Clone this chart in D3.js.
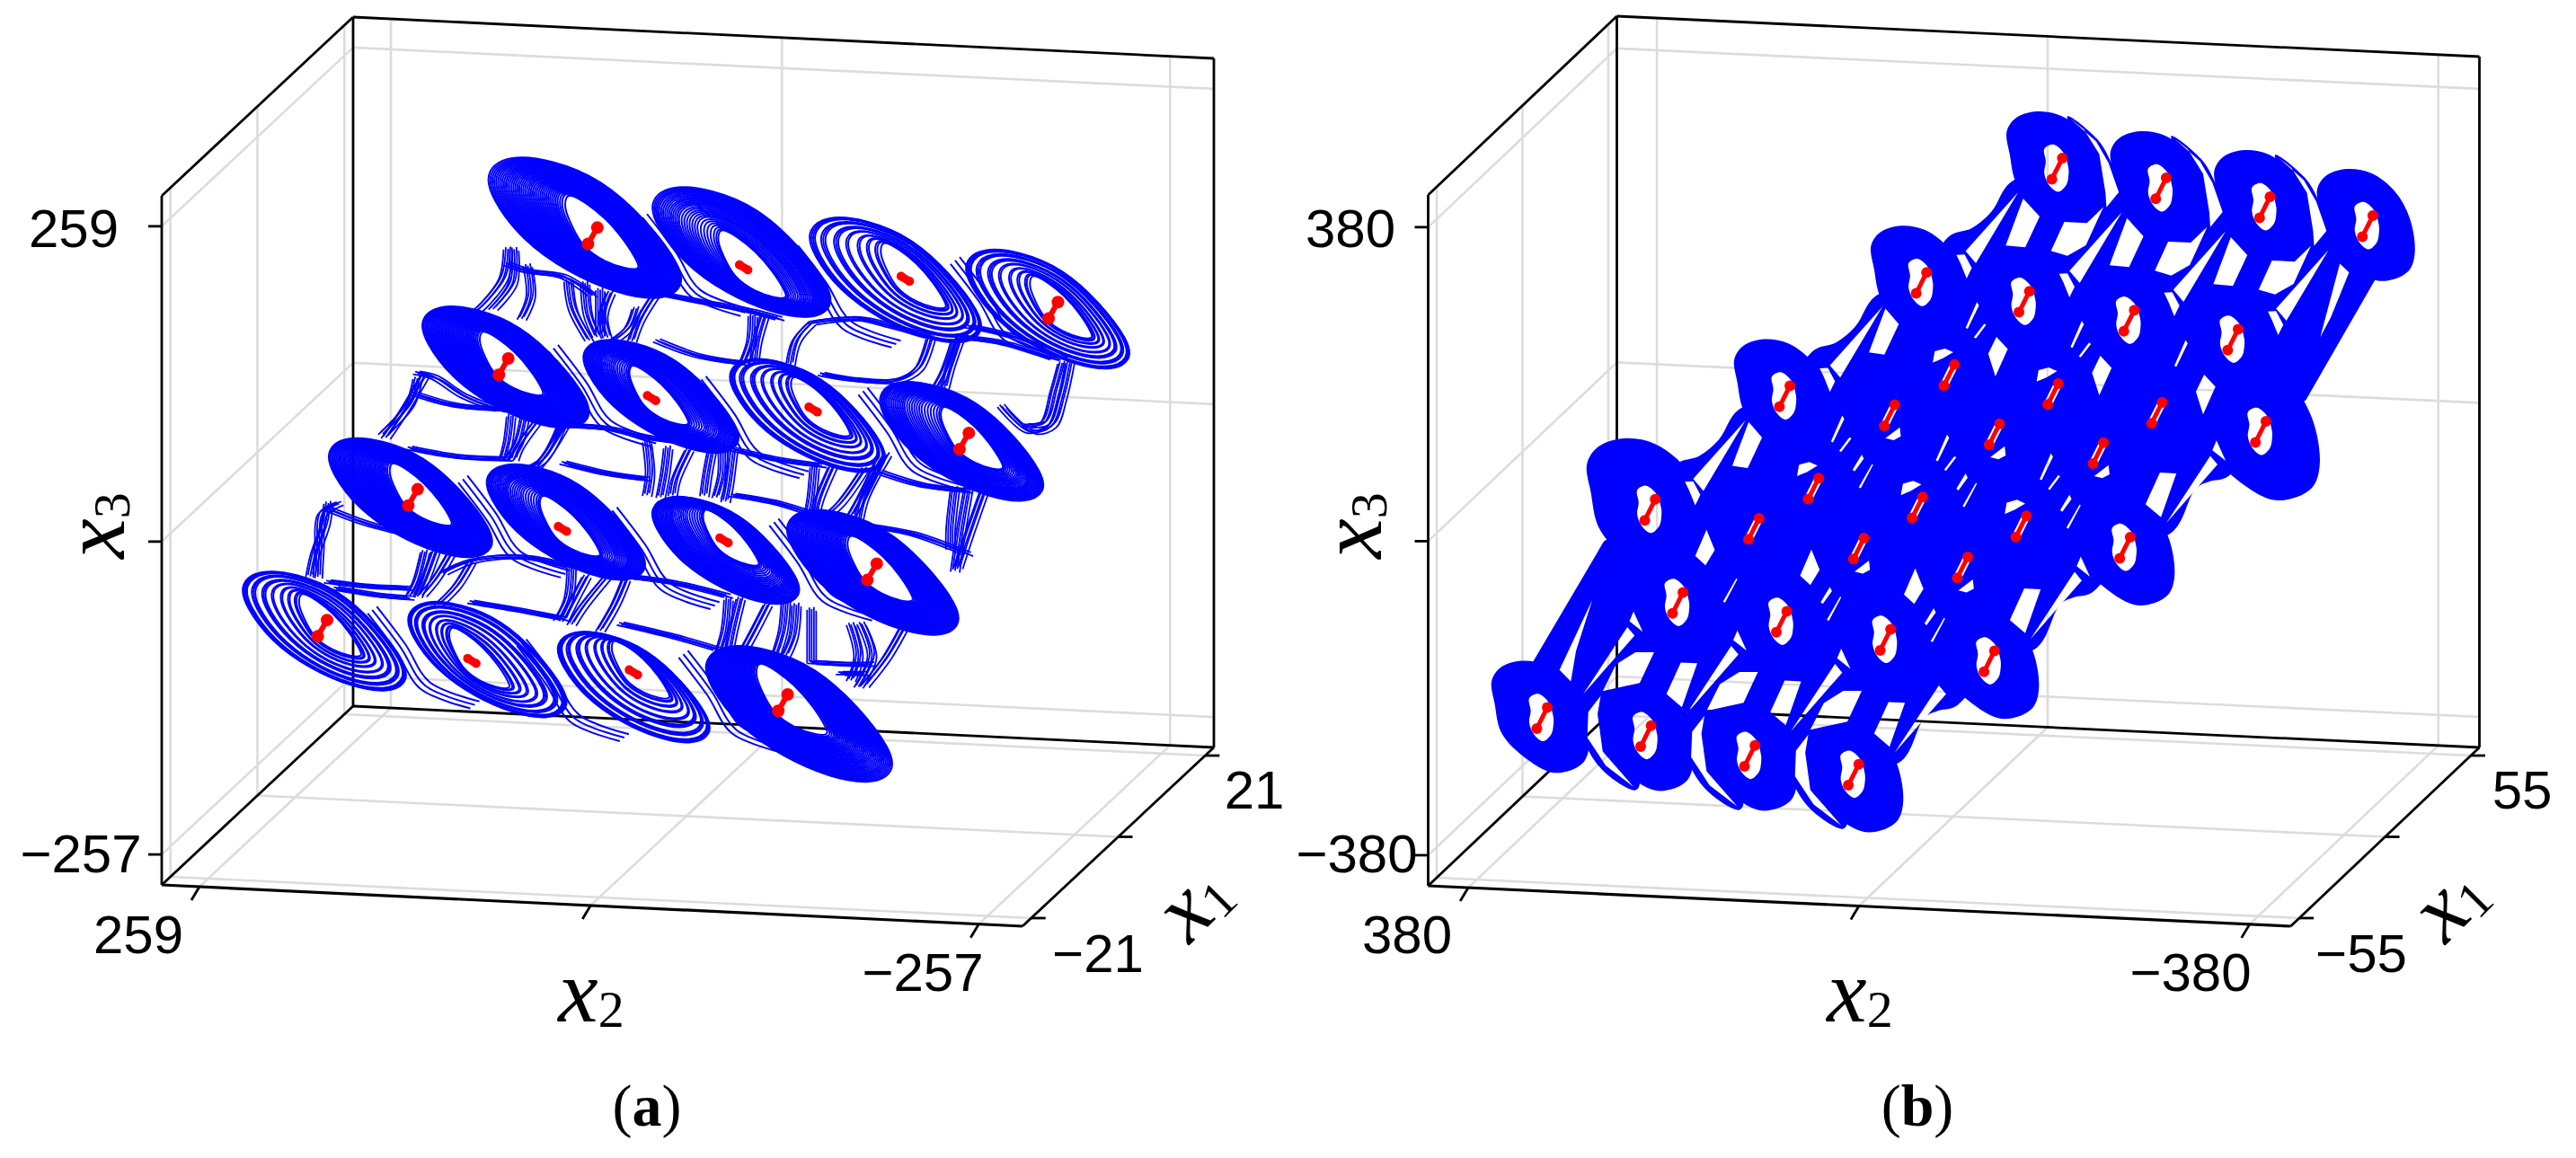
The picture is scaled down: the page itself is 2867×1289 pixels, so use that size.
<!DOCTYPE html>
<html><head><meta charset="utf-8">
<script src="https://cdn.jsdelivr.net/npm/d3@7"></script>
<style>html,body{margin:0;padding:0;background:#fff}svg{display:block}</style>
</head><body><svg id="c" width="2867" height="1289"></svg>
<script>
// ---- panel (a) values: [x2, x3], taken on the plane x1 = 0
const eqA=[[[62,191],[-38,171],[-145,168],[-243,148]],
[[121,80],[23,60],[-84,57],[-184,37]],
[[181,-31],[82,-51],[-25,-54],[-123,-74]],
[[241,-142],[142,-163],[35,-166],[-64,-185]]];
const ringCentreA=[[[70,200],[-34,186],[-136,169],[-237,151]],
[[122,82],[19,64],[-78,54],[-180,39]],
[[185,-29],[82,-43],[-24,-60],[-121,-72]],
[[242,-142],[134,-159],[37,-176],[-72,-191]]];
const ringSizeA=[[1.18,1.09,1.05,1],[1.02,.95,.95,1],[1,.97,.9,1.05],[1,.97,.93,1.14]];
const ringKindA=[["dense","medium","sparse","sparse"],["dense","medium","sparse","medium"],["dense","medium","medium","dense"],["sparse","sparse","sparse","dense"]];
const ringLists={
dense:[1,.975,.95,.925,.9,.875,.85,.825,.8,.775,.75,.725,.7,.675,.65,.625,.6,.575,.55,.525,.5,.475,.45,.425,.4,.375,.35,.325,.3,.275,.25,.225,.2,.175,.15,.125,.1,.07,.04,0],
medium:[1,.975,.95,.925,.9,.87,.84,.81,.78,.75,.72,.69,.66,.63,.6,.56,.52,.48,.44,.4,.36,.32,.27,.22,.17,.12,.07,.03,0],
sparse:[1,.975,.95,.925,.84,.81,.78,.66,.63,.6,.49,.46,.33,.3,.2,.17,.08,.05,0]};
const loopA=[[54,33],[41,46],[16,44],[-12,32],[-37,5],[-56,-25],[-58,-41],[-45,-51],[-20,-47],[7,-34],[33,-13],[50,15]];
const holeA=[[15,27],[12,28],[4,23],[-7,13],[-18,-2],[-26,-18],[-26,-22],[-19,-22],[-7,-18],[6,-8],[12,7],[16,18]];
const tailA=[[-36,20],[-55,-10],[-71,-40],[-104,-54]];
const strandsA=[
[[118,177],[121,153],[133,132],[145,118]],[[114,177],[115,149],[128,127]],[[105,164],[103,139],[109,120]],
[[118,164],[104,159],[81,156],[62,142]],[[78,153],[75,130],[64,105]],[[67,152],[65,126],[59,108]],
[[57,147],[57,126],[57,110]],[[50,145],[55,126],[52,108]],[[33,133],[38,117],[50,104]],
[[19,146],[-9,141],[-43,135],[-62,130]],[[21,144],[31,123],[36,106]],[[-44,132],[-43,111],[-38,93]],
[[-52,133],[-47,111],[-45,93]],[[19,107],[-9,96],[-38,92]],[[-83,128],[-114,133],[-137,128],[-161,121]],
[[-69,93],[-73,113],[-83,128]],[[-162,121],[-154,95],[-140,84],[-109,83],[-90,86]],[[-182,124],[-175,99],[-171,80]],
[[-178,118],[-171,93],[-164,77]],[[-187,131],[-218,124],[-251,108]],[[-182,122],[-209,119],[-244,108]],
[[-254,106],[-249,77],[-242,53],[-228,47],[-209,67]],[[-249,105],[-244,82],[-237,55],[-225,52]],
[[178,67],[183,46],[201,20]],[[173,70],[187,40],[199,17]],[[178,71],[166,68],[147,54],[123,44]],
[[180,54],[152,46],[118,45]],[[183,9],[152,4],[118,4]],[[116,40],[118,19],[121,4]],[[107,40],[111,19],[118,4]],
[[97,39],[111,14],[114,4]],[[81,34],[52,33],[24,27],[-5,24]],[[83,33],[95,5],[107,-4]],[[81,33],[90,14],[100,-3]],
[[81,3],[52,-4],[26,-7]],[[26,24],[24,-2],[26,-20]],[[12,20],[14,-1],[17,-21]],[[-2,19],[7,-6],[9,-19]],
[[-17,20],[-14,0],[-12,-18]],[[-24,23],[-24,1],[-20,-19]],[[-31,21],[-62,14],[-90,11]],[[-31,20],[-28,-9],[-26,-22]],
[[-31,-17],[-62,-22],[-83,-29]],[[-85,10],[-83,-16],[-81,-29]],[[-97,11],[-88,-16],[-85,-31]],[[-118,10],[-102,-19],[-90,-33]],
[[-133,23],[-118,-13],[-114,-33]],[[-128,18],[-116,-13],[-109,-29]],[[-128,8],[-156,-1],[-187,-4]],
[[-123,-37],[-152,-42],[-178,-52],[-187,-56]],[[-178,-2],[-175,-36],[-175,-52]],[[-187,0],[-182,-36],[-178,-70]],
[[-197,-4],[-187,-40],[-180,-67]],
[[237,-39],[239,-56],[246,-82],[249,-100]],[[230,-39],[241,-48],[243,-77],[244,-100]],[[237,-44],[213,-54],[183,-62]],
[[237,-104],[213,-106],[183,-106]],[[232,-109],[204,-113],[183,-114]],[[173,-75],[178,-99],[183,-112]],
[[166,-74],[173,-98],[178,-112]],[[156,-76],[166,-97],[175,-111]],[[161,-92],[142,-81],[109,-76],[76,-82]],
[[142,-81],[152,-102],[164,-118]],[[142,-115],[109,-120],[81,-125]],[[76,-82],[78,-108],[85,-126]],
[[66,-89],[76,-113],[81,-126]],[[52,-88],[69,-115],[76,-129]],[[38,-88],[9,-91],[-28,-100]],[[40,-90],[47,-111],[57,-133]],
[[43,-127],[9,-135],[-21,-144]],[[-28,-102],[-26,-128],[-21,-149]],[[-36,-101],[-31,-127],[-28,-146]],
[[-54,-105],[-43,-132],[-36,-148]],[[-66,-100],[-64,-126],[-59,-147]],[[-73,-104],[-71,-130],[-66,-146]],
[[-83,-107],[-83,-135],[-83,-151]],[[-109,-118],[-114,-144],[-109,-164]],[[-116,-117],[-123,-143],[-114,-169]],
[[-145,-116],[-133,-143],[-118,-168]],[[-83,-151],[-109,-151],[-123,-150]],[[-102,-159],[-118,-158]]];
const strandEcho=[[0,0],[1.5,1.2],[-1.5,1.8],[3,-.8],[-3,-1.2]];
const dumbbellA=[[-3.1,6.9],[3.1,-6.9]];
const dotA=[[-2.8,-1.9],[2.8,1.9]];
const eqKindA=["bar","dot","dot","bar"];

// ---- panel (b) values
const eqB=[[[-101,373],[-202,355],[-303,338],[-403,321]],
[[31,227],[-69,210],[-171,193],[-272,176]],
[[4,117],[-97,100],[-198,83],[-299,66]],
[[164,82],[62,65],[-40,48],[-141,31]],
[[136,-28],[35,-45],[-66,-62],[-167,-82]],
[[295,-63],[194,-80],[92,-98],[-9,-115]],
[[268,-174],[167,-191],[66,-207],[-35,-227]],
[[400,-321],[299,-337],[198,-355],[97,-372]]];
const hiddenB=[[0,0,0,0],[0,0,0,0],[1,1,1,0],[0,1,1,1],[1,1,1,0],[0,1,1,1],[0,0,0,0],[0,0,0,0]];
const sizeB=[[1,1,1,1],[1,1,1,1],[1,1,1,1.25],[1,1,1,1],[1,1,1,1.05],[1.25,1,1,1],[1,1,1,1.05],[1,1,1,1.05]];
const hullB=[[-101,373],[-403,321],[-411,258],[-343,107],[-299,66],[-167,-82],[-35,-227],[97,-372],[400,-321],[410,-256],[340,-104],[295,-63],[164,82],[31,227]];
const blobB=[[49,42],[40,59],[20,68],[-4,64],[-27,43],[-41,12],[-46,-28],[-41,-50],[-27,-62],[-8,-65],[23,-43],[40,-19],[46,14]];
const holeB=[[12.5,23],[4,29],[-6,20],[-11,2],[-11,-8.5],[-9,-19],[-1,-28],[8,-20],[12.5,-6],[11,8]];
const barB=[[5.1,-13],[-5.1,13]];
const edgeUpB=[[45,-19],[64,-56],[83,-77],[105,-88]];
const edgeUpPairs=[[[0,0],[1,0]],[[1,0],[3,0]],[[3,0],[5,0]]];
const edgeLowB=[[32,-56],[50,-63],[63,-72],[85,-125]];
const edgeLowPairs=[[[2,3],[4,3]],[[4,3],[6,3]],[[6,3],[7,3]]];
const shellTopB=[[-10,64],[-39,38],[-52,12],[-63,-25],[-51,-48],[-29,-35],[-18,37]];
const shellBottomB=[[58,31],[60,-7],[42,-44],[10,-66],[6,-55],[45,5]];
const topRowShell=[[0,0],[0,1],[0,2]], bottomRowShell=[[7,1],[7,2],[7,3]];
// white gaps left between the bundles: shape offsets, and the scrolls they sit beside
const gapsB=[
 {s:[[-46,49],[-57,35],[-45,1],[-38,28]],at:[[2,0],[2,1],[2,2]]},
 {s:[[46,-4],[38,-28],[47,-47],[57,-36]],at:[[5,1],[5,2],[5,3]]},
 {s:[[33,-38],[17,-59],[31,-97],[50,-96]],at:[[0,0],[0,1],[0,2]]},
 {s:[[35,-33],[22,-51],[36,-89],[51,-87]],at:[[1,0],[3,0]]},
 {s:[[98,-55],[82,-55],[97,-109],[112,-94]],at:[[2,3],[4,3],[6,1],[6,2],[6,3]]},
 {s:[[38,-31],[89,-105],[79,-119]],at:[[0,0],[0,1],[0,2],[0,3],[1,0],[3,0]]},
 {s:[[49,-32],[42,-42],[92,-116]],at:[[2,3],[4,3],[6,0],[6,1],[6,2],[6,3]]},
 {s:[[-7,-64],[-29,-64],[-45,-44],[-28,-91],[-10,-105],[6,-100]],at:[[0,0],[0,1],[0,2]]},
 {s:[[29,85],[10,101],[-8,102],[6,64],[42,52]],at:[[7,1],[7,2],[7,3]]},
 {s:[[-13,61],[-38,35],[-50,10],[-60,-25],[-48,-44],[-47,-26],[-41,20],[-26,49]],at:[[0,0],[0,1],[0,2]]},
 {s:[[44,46],[56,26],[57,-5],[39,-38],[12,-62],[42,-21],[47,24]],at:[[7,1],[7,2],[7,3]]},
 {s:[[46,-3],[44,-7],[55,-36],[57,-35]],at:[[1,1],[1,2],[1,3],[3,1],[3,2],[3,3]]},
 {s:[[39,-29],[37,-30],[47,-47],[49,-46]],at:[[1,1],[1,2],[3,1],[3,2],[3,3]]},
 {s:[[54,61],[52,56],[61,40],[63,42]],at:[[4,1],[4,2],[4,3],[6,2],[6,3]]},
 {s:[[44,50],[43,49],[55,20],[57,21]],at:[[4,1],[4,2],[4,3],[6,1],[6,2],[6,3]]},
 {s:[[-34,36],[-42,37],[-49,21],[-44,8],[-38,26]],at:[[1,0],[1,1],[1,2],[1,3],[3,0],[5,0]]},
 {s:[[43,-13],[34,-37],[47,-25]],at:[[2,3],[4,3],[6,0],[6,1],[6,2]]},
 {s:[[-49,146],[-17,59],[-28,46],[-33,83]],at:[[7,0]]},
 {s:[[27,-47],[18,-57],[36,-113],[46,-137]],at:[[0,3]]},
 {s:[[16,14],[14,28],[4,32],[-4,28],[6,20]],at:[[2,0],[2,1],[4,0],[4,1],[4,2]]},
 {s:[[4,-28],[-10,-14],[-11,-25],[-4,-30]],at:[[3,1],[3,2],[3,3],[5,2],[5,3]]}];

// ---- axes
const panels=[
 {o:[180,985],v2:[958,46],v1:[213,-199],h:767,dx2:[284,-286],dx1:[-23.1,23.1],dx3:[-282,284],
  t2:[259,0,-257],t1:[-21,0,21],t3:[-257,0,259]},
 {o:[1589.5,986],v2:[960,45],v1:[210,-199],h:769,dx2:[419,-420],dx1:[-60.5,60.5],dx3:[-417,419],
  t2:[380,0,-380],t1:[-55,0,55],t3:[-380,0,380]}];
const labelsTick=[
 [["259",82,254],["\u2212257",90,950],["259",154,1040],["\u2212257",1027,1082],["21",1396,879],["\u221221",1222,1061]],
 [["380",1503,254],["\u2212380",1510,950],["380",1566,1040],["\u2212380",2438,1082],["55",2807,879],["\u221255",2628,1061]]];
const labelsAxis=[
 [["3",104,585,-90],["2",658,1103,0],["1",1326,1002,-45]],
 [["3",1503,585,-90],["2",2070,1103,0],["1",2724,1002,-45]]];
const captions=[["a",720,1230],["b",2134,1230]];

const svg=d3.select("#c");
svg.append("rect").attr("width",2867).attr("height",1289).attr("fill","#fff");
const BLUE="#0000ff",RED="#ff0000";

function projector(p){
 const s2=d3.scaleLinear().domain(p.dx2).range([0,1]),
       s1=d3.scaleLinear().domain(p.dx1).range([0,1]),
       s3=d3.scaleLinear().domain(p.dx3).range([0,1]);
 return (x1,x2,x3)=>{const a=s2(x2),b=s1(x1),c=s3(x3);
  return [p.o[0]+p.v2[0]*a+p.v1[0]*b, p.o[1]+p.v2[1]*a+p.v1[1]*b-p.h*c];};
}
function drawFrame(g,p,P){
 const L=d3.line();
 const seg=(a,b,col,w)=>g.append("path").attr("d",L([P(...a),P(...b)])).attr("stroke",col).attr("stroke-width",w).attr("fill","none");
 const [x2a,x2b]=p.dx2,[x1a,x1b]=p.dx1,[x3a,x3b]=p.dx3;
 const GR="#dcdcdc",GW=2.6;
 p.t2.forEach(t=>{seg([x1b,t,x3a],[x1b,t,x3b],GR,GW);seg([x1a,t,x3a],[x1b,t,x3a],GR,GW);});
 p.t3.forEach(t=>{seg([x1b,x2a,t],[x1b,x2b,t],GR,GW);seg([x1a,x2a,t],[x1b,x2a,t],GR,GW);});
 p.t1.forEach(t=>{seg([t,x2a,x3a],[t,x2a,x3b],GR,GW);seg([t,x2a,x3a],[t,x2b,x3a],GR,GW);});
 const K="#000",KW=2.8;
 seg([x1b,x2a,x3b],[x1b,x2b,x3b],K,KW);
 seg([x1b,x2a,x3a],[x1b,x2a,x3b],K,KW);
 seg([x1b,x2b,x3a],[x1b,x2b,x3b],K,KW);
 seg([x1a,x2a,x3b],[x1b,x2a,x3b],K,KW);
 seg([x1a,x2a,x3a],[x1a,x2a,x3b],K,KW);
 seg([x1a,x2a,x3a],[x1a,x2b,x3a],K,3.2);
 seg([x1a,x2b,x3a],[x1b,x2b,x3a],K,KW);
 seg([x1b,x2a,x3a],[x1b,x2b,x3a],K,KW);
 seg([x1a,x2a,x3a],[x1b,x2a,x3a],K,KW);
 const stub=(pt,dx,dy)=>g.append("path").attr("d",L([pt,[pt[0]+dx,pt[1]+dy]])).attr("stroke",K).attr("stroke-width",KW);
 p.t3.forEach(t=>stub(P(x1a,x2a,t),-15,0));
 p.t2.forEach(t=>stub(P(x1a,t,x3a),-9,15));
 p.t1.forEach(t=>stub(P(t,x2b,x3a),16,0));
}
function drawLabels(g,i){
 labelsTick[i].forEach(d=>g.append("text").text(d[0]).attr("x",d[1]).attr("y",d[2]).attr("text-anchor","middle")
  .attr("dominant-baseline","central").attr("font-family","Liberation Sans").attr("font-size",60).attr("fill","#000"));
 labelsAxis[i].forEach(d=>{const t=g.append("text").attr("transform",`translate(${d[1]},${d[2]}) rotate(${d[3]})`)
   .attr("text-anchor","middle").attr("dominant-baseline","central").attr("font-family","Liberation Serif").attr("fill","#000");
  t.append("tspan").text("x").attr("font-style","italic").attr("font-size",100);
  t.append("tspan").text(d[0]).attr("font-size",58).attr("dy",20);});
 const c=captions[i];
 const t=g.append("text").attr("x",c[1]).attr("y",c[2]).attr("text-anchor","middle").attr("dominant-baseline","central")
  .attr("font-family","Liberation Serif").attr("font-size",66).attr("fill","#000");
 t.append("tspan").text("(");t.append("tspan").text(c[0]).attr("font-weight","bold");t.append("tspan").text(")");
}
const closed=d3.line().curve(d3.curveCatmullRomClosed.alpha(.5));
const smooth=d3.line().curve(d3.curveBasisClosed);
const open=d3.line().curve(d3.curveCatmullRom.alpha(.5));
const poly=d3.line().curve(d3.curveLinearClosed);

// panel (a)
{
 const p=panels[0],P=projector(p),g=svg.append("g");
 drawFrame(g,p,P);
 const at=(a,b)=>P(0,a,b);
 const blue=g.append("g").attr("fill","none").attr("stroke",BLUE).attr("stroke-linejoin","round");
 strandsA.forEach(s=>strandEcho.forEach(e=>blue.append("path").attr("stroke-width",1.8).attr("d",open(s.map(q=>at(q[0]+e[0],q[1]+e[1]))))));
 eqA.forEach((row,r)=>row.forEach((c,k)=>{ if(k<3) [0,3,6].forEach(e=>
   blue.append("path").attr("stroke-width",2).attr("d",open(tailA.map(d=>at(c[0]+d[0]+e,c[1]+d[1]-e)))));}));
 eqA.forEach((row,r)=>row.forEach((c,k)=>{
   const rc=ringCentreA[r][k],size=ringSizeA[r][k];
   ringLists[ringKindA[r][k]].forEach(s=>{
     const cx=c[0]+(rc[0]-c[0])*s, cy=c[1]+(rc[1]-c[1])*s;
     blue.append("path").attr("stroke-width",2).attr("d",smooth(loopA.map((q,i)=>{
       const h=holeA[i];
       return at(cx+(h[0]+(q[0]-h[0])*s)*size,cy+(h[1]+(q[1]-h[1])*s)*size);})));
   });
 }));
 const red=g.append("g");
 eqA.forEach(row=>row.forEach((c,k)=>{
   const bar=eqKindA[k]==="bar", off=bar?dumbbellA:dotA;
   const pts=off.map(o=>at(c[0]+o[0],c[1]+o[1]));
   red.append("path").attr("d",d3.line()(pts)).attr("stroke",RED).attr("stroke-width",bar?6:9).attr("stroke-linecap","round");
   pts.forEach(q=>red.append("circle").attr("cx",q[0]).attr("cy",q[1]).attr("r",bar?7:5).attr("fill",RED));
 }));
 drawLabels(g,0);
}
// panel (b)
{
 const p=panels[1],P=projector(p),g=svg.append("g");
 drawFrame(g,p,P);
 const at=(a,b)=>P(0,a,b);
 const off=(c,s)=>s.map(q=>at(c[0]+q[0],c[1]+q[1]));
 const mask=svg.append("defs").append("mask").attr("id","gapsB").attr("maskUnits","userSpaceOnUse")
   .attr("x",0).attr("y",0).attr("width",2867).attr("height",1289);
 mask.append("rect").attr("width",2867).attr("height",1289).attr("fill","#fff");
 gapsB.forEach(gp=>gp.at.forEach(([r,k])=>mask.append("path").attr("fill","#000").attr("d",poly(off(eqB[r][k],gp.s)))));
 eqB.forEach((row,r)=>row.forEach((c,k)=>{
   if(hiddenB[r][k]) mask.append("path").attr("stroke","#000").attr("stroke-width",9).attr("d",d3.line()(off(c,barB)));
   else mask.append("path").attr("fill","#000").attr("d",closed(off(c,holeB)));
 }));
 const blue=g.append("g").attr("fill",BLUE).attr("stroke","none").attr("mask","url(#gapsB)");
 blue.append("path").attr("d",poly(hullB.map(q=>at(q[0],q[1]))));
 edgeUpPairs.forEach(([a,b])=>{const A=eqB[a[0]][a[1]],B=eqB[b[0]][b[1]];
   blue.append("path").attr("d",closed([at(...A),...off(A,edgeUpB),at(...B)]));});
 edgeLowPairs.forEach(([a,b])=>{const A=eqB[a[0]][a[1]],B=eqB[b[0]][b[1]];
   blue.append("path").attr("d",closed([at(...A),...off(A,edgeLowB),at(...B)]));});
 topRowShell.forEach(([r,k])=>blue.append("path").attr("d",closed(off(eqB[r][k],shellTopB))));
 bottomRowShell.forEach(([r,k])=>blue.append("path").attr("d",closed(off(eqB[r][k],shellBottomB))));
 eqB.forEach((row,r)=>row.forEach((c,k)=>{
   const z=sizeB[r][k];
   blue.append("path").attr("d",closed(blobB.map(q=>at(c[0]+q[0]*z,c[1]+q[1]*z))));
 }));
 const red=g.append("g");
 eqB.forEach(row=>row.forEach(c=>{
   const pts=off(c,barB);
   red.append("path").attr("d",d3.line()(pts)).attr("stroke",RED).attr("stroke-width",5);
   pts.forEach(q=>red.append("circle").attr("cx",q[0]).attr("cy",q[1]).attr("r",6).attr("fill",RED));
 }));
 drawLabels(g,1);
}
</script></body></html>
